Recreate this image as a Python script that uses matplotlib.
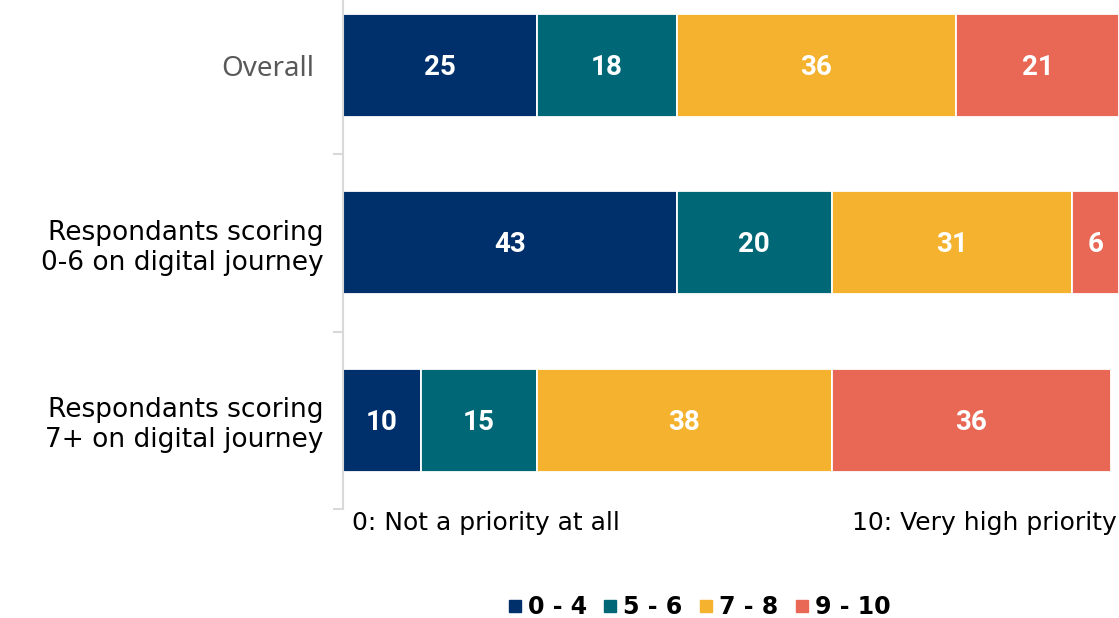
import matplotlib
matplotlib.use("Agg")
import matplotlib.pyplot as plt
from matplotlib.lines import Line2D

# Survey results: share of respondents (%) by priority score band
groups = ["Overall",
          "Respondants scoring\n0-6 on digital journey",
          "Respondants scoring\n7+ on digital journey"]
bands = ["0 - 4", "5 - 6", "7 - 8", "9 - 10"]
score_0_4 = [25, 43, 10]
score_5_6 = [18, 20, 15]
score_7_8 = [36, 31, 38]
score_9_10 = [21, 6, 36]
series = [score_0_4, score_5_6, score_7_8, score_9_10]
colors = ["#00306B", "#006776", "#F4B22E", "#E86855"]

W, H = 1119, 618
fig = plt.figure(figsize=(W / 100, H / 100), dpi=100)

# axes box in pixel terms: left edge 343, full width to the right,
# category bands 177.5 px tall
left_px, bottom_px, top_px = 343, 509, -23.5
ax = fig.add_axes([left_px / W, (H - bottom_px) / H,
                   1 - left_px / W, (bottom_px - top_px) / H])

y = list(range(len(groups)))
starts = [0] * len(groups)
for vals, col in zip(series, colors):
    ax.barh(y, vals, left=starts, height=0.58, color=col,
            edgecolor="white", linewidth=1.3)
    for yi, v, s in zip(y, vals, starts):
        ax.text(s + v / 2, yi + 0.01, f"{v}", ha="center", va="center",
                color="white", fontsize=20, fontweight="bold",
                family="Roboto")
    starts = [s + v for s, v in zip(starts, vals)]

ax.set_xlim(0, 100)
ax.set_ylim(2.5, -0.5)

for side in ["top", "right", "bottom"]:
    ax.spines[side].set_visible(False)
ax.spines["left"].set_color("#D9D9D9")
ax.spines["left"].set_linewidth(1.5)
ax.set_xticks([])

ax.set_yticks(y)
ax.set_yticklabels(groups, fontsize=19, family="DejaVu Sans",
                   linespacing=1.2)
ax.tick_params(axis="y", which="major", length=0, pad=14)
ax.set_yticks([-0.5, 0.5, 1.5, 2.5], minor=True)
ax.tick_params(axis="y", which="minor", length=7, width=1.5,
               color="#D9D9D9")
first = ax.get_yticklabels()[0]
first.set_color("#595959")
first.set_family("Noto Sans")
first.set_fontsize(20)
first.set_x(-0.012)

# scale end annotations
fig.text(352 / W, 1 - 523 / H, "0: Not a priority at all", ha="left",
         va="center", fontsize=18, family="DejaVu Sans", color="black")
fig.text(1117 / W, 1 - 523 / H, "10: Very high priority", ha="right",
         va="center", fontsize=18, family="DejaVu Sans", color="black")

handles = [Line2D([], [], marker="s", linestyle="none", markersize=8,
                  markerfacecolor=c, markeredgecolor=c) for c in colors]
fig.legend(handles, bands, loc="center", bbox_to_anchor=(699 / W, 1 - 607 / H),
           ncol=4, frameon=False, handlelength=0.6, handletextpad=0.25,
           columnspacing=0.7, borderaxespad=0,
           prop={"family": "DejaVu Sans", "weight": "bold", "size": 17})

fig.savefig("out.png", dpi=100)
